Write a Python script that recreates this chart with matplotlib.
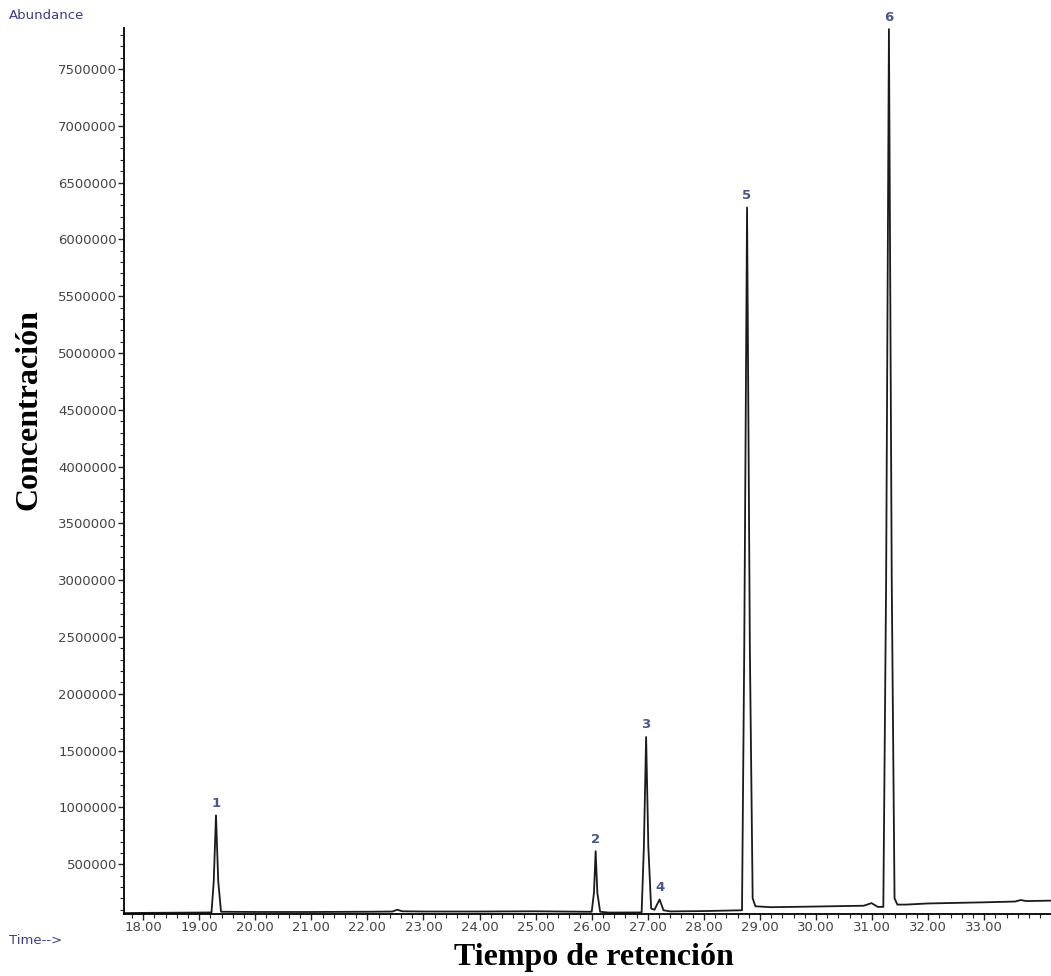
import numpy as np
import matplotlib
matplotlib.use("Agg")
import matplotlib.pyplot as plt
from matplotlib.ticker import MultipleLocator, FormatStrFormatter

# chromatogram trace (time [min], abundance)
time = [17.66, 18.00, 19.00, 19.22, 19.26, 19.30, 19.34, 19.39, 20.00, 21.00,
        22.00, 22.45, 22.53, 22.62, 23.00, 24.00, 25.00, 25.90, 26.00, 26.04,
        26.07, 26.10, 26.15, 26.30, 26.89, 26.93, 26.97, 27.01, 27.06, 27.12,
        27.21, 27.28, 27.40, 28.00, 28.68, 28.72, 28.77, 28.82, 28.87, 28.92,
        29.20, 30.00, 30.85, 30.99, 31.10, 31.20, 31.25, 31.30, 31.35, 31.40,
        31.45, 31.60, 32.00, 33.00, 33.55, 33.65, 33.75, 34.19]
abundance = [70000, 72000, 75000, 76000, 350000, 930000, 350000, 82000, 80000, 80000,
             82000, 84000, 100000, 86000, 84000, 84000, 86000, 82000, 82000, 250000,
             615000, 250000, 82000, 75000, 76000, 650000, 1620000, 650000, 110000, 100000,
             190000, 95000, 85000, 88000, 95000, 2400000, 6280000, 2400000, 200000, 130000,
             122000, 128000, 135000, 158000, 125000, 125000, 3000000, 7850000, 3000000, 200000,
             145000, 145000, 155000, 165000, 172000, 185000, 176000, 180000]

peak_labels = ["1", "2", "3", "4", "5", "6"]
peak_times  = [19.30, 26.07, 26.97, 27.21, 28.77, 31.30]
peak_tops   = [930000, 615000, 1620000, 190000, 6280000, 7850000]

fig = plt.figure(figsize=(10.51, 9.76), dpi=100)
ax = fig.add_axes([0.118, 0.0635, 0.882, 0.9078])

ax.plot(time, abundance, color="#1a1a1a", lw=1.3)

for lab, t, h in zip(peak_labels, peak_times, peak_tops):
    ax.annotate(lab, (t, h), xytext=(0, 4), textcoords="offset points",
                ha="center", va="bottom", fontsize=9.5, fontweight="bold",
                color="#4a5590", family="DejaVu Sans")

ax.set_xlim(17.66, 34.19)
ax.set_ylim(62000, 7860000)

ax.xaxis.set_major_locator(MultipleLocator(1))
ax.xaxis.set_minor_locator(MultipleLocator(0.2))
ax.xaxis.set_major_formatter(FormatStrFormatter("%.2f"))
ax.yaxis.set_major_locator(MultipleLocator(500000))
ax.yaxis.set_minor_locator(MultipleLocator(100000))
ax.yaxis.set_major_formatter(FormatStrFormatter("%d"))

# the 34.00 label is cut off in the source
ax.set_xticks(np.arange(18, 34, 1.0))

ax.spines["top"].set_visible(False)
ax.spines["right"].set_visible(False)
ax.spines["left"].set_linewidth(1.3)
ax.spines["bottom"].set_linewidth(1.3)

ax.tick_params(which="major", length=4, width=1, pad=1, labelsize=9.5,
               labelcolor="#444444", color="#222222")
ax.tick_params(which="minor", length=3, width=0.8, color="#222222")
for lbl in ax.get_xticklabels() + ax.get_yticklabels():
    lbl.set_family("DejaVu Sans")

fig.text(0.008, 0.984, "Abundance", fontsize=9.5, color="#3c3c8c",
         family="DejaVu Sans", ha="left", va="center")
fig.text(0.009, 0.036, "Time-->", fontsize=9.5, color="#3c3c8c",
         family="DejaVu Sans", ha="left", va="center")

fig.text(0.565, 0.019, "Tiempo de retención", fontsize=23, fontweight="bold",
         family="Liberation Serif", ha="center", va="center")
fig.text(0.028, 0.58, "Concentración", fontsize=23, fontweight="bold",
         family="Liberation Serif", ha="center", va="center", rotation=90)

fig.savefig("out.png", dpi=100)
